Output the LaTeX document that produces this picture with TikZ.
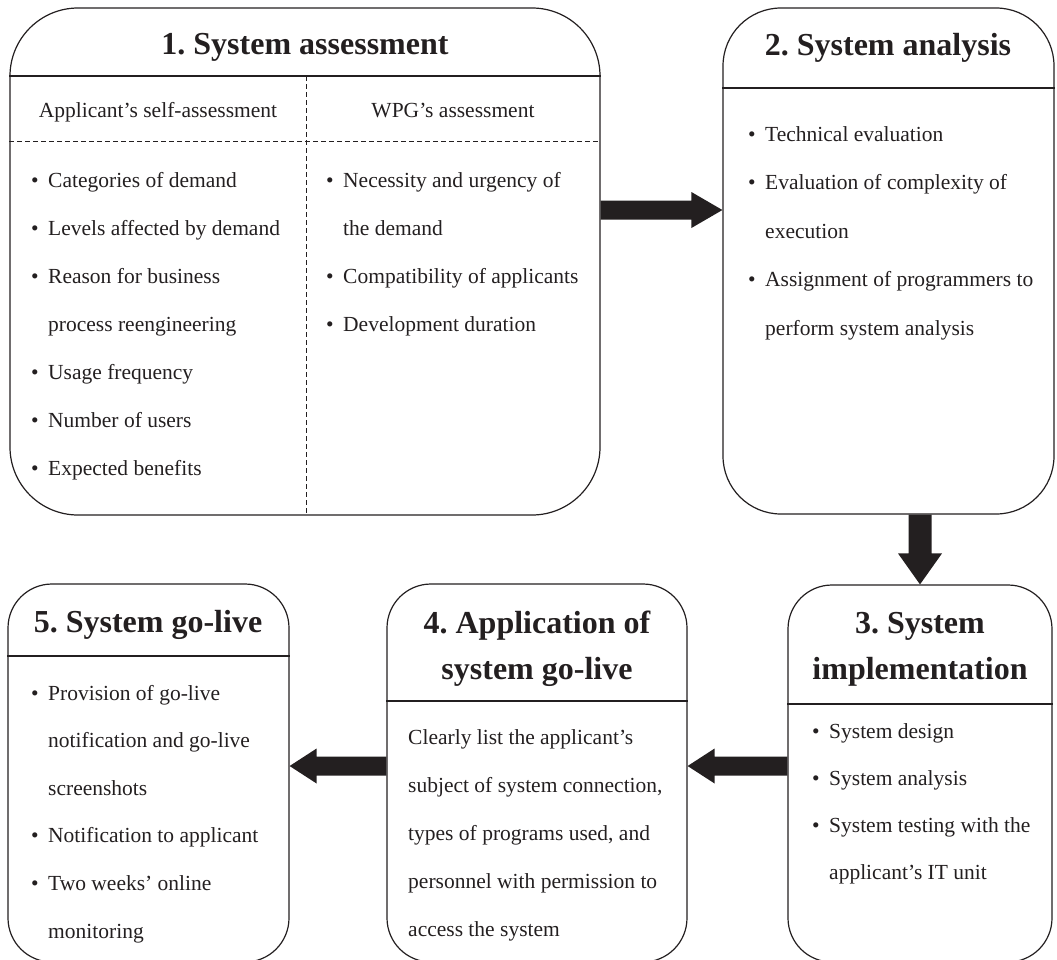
\documentclass[tikz,border=0pt]{standalone}
\usepackage{fontspec}
\setmainfont{Liberation Serif}
\usetikzlibrary{calc}
\frenchspacing

\definecolor{ink}{RGB}{35,31,32}

% bullet and hanging indent for the lists
\newcommand\bitem{\makebox[17pt][l]{\textbullet}}
\newcommand\bcont{\hspace*{17pt}}
% a block of text lines whose reference point is the first baseline
\newcommand\lines[2]{\parbox[t]{320pt}{\fontsize{21.5}{#1}\selectfont\raggedright #2}}
\newcommand\hdlines[2]{\parbox[t]{#1}{\centering\fontsize{32}{46}\selectfont\bfseries #2}}

\begin{document}
\begin{tikzpicture}[x=1pt,y=-1pt,
  every node/.style={text=ink, inner sep=0pt},
  box/.style={draw=ink, line width=1.2pt},
  head/.style={font=\fontsize{32}{46}\selectfont\bfseries, anchor=base},
  sub/.style={font=\fontsize{21.5}{26}\selectfont, anchor=base},
  lst/.style={anchor=base west},
  rule/.style={draw=ink, line width=1.5pt},
  dline/.style={draw=ink, line width=1pt, dash pattern=on 5pt off 3pt},
  flow/.style={fill=ink}]

\useasboundingbox (0,0) rectangle (1057,959);
\clip (0,0) rectangle (1057,959);

% ---------- the five stage boxes ----------
\node[box, rounded corners=68pt, minimum width=590pt, minimum height=507pt] (b1) at (305,261.5) {};
\node[box, rounded corners=58pt, minimum width=331pt, minimum height=506pt] (b2) at (888.5,261) {};
\node[box, rounded corners=44pt, minimum width=264pt, minimum height=377pt] (b3) at (920,773.5) {};
\node[box, rounded corners=44pt, minimum width=300pt, minimum height=378pt] (b4) at (537,773) {};
\node[box, rounded corners=44pt, minimum width=281pt, minimum height=378pt] (b5) at (148.5,773) {};

% ---------- header rules and column dividers ----------
\draw[rule] (b1.west |- 0,76) -- (b1.east |- 0,76);
\draw[rule] (b2.west |- 0,88) -- (b2.east |- 0,88);
\draw[rule] (b3.west |- 0,704) -- (b3.east |- 0,704);
\draw[rule] (b4.west |- 0,701) -- (b4.east |- 0,701);
\draw[rule] (b5.west |- 0,656) -- (b5.east |- 0,656);
\draw[dline] (306,76) -- (b1.south -| 306,0);
\draw[dline] (b1.west |- 0,141) -- (b1.east |- 0,141);

% ---------- headings ----------
\node[head] (h1) at (305,54) {1. System assessment};
\node[head] (h2) at (888,55) {2. System analysis};
\node[anchor=base] (h3) at (920,633) {\hdlines{260pt}{3. System\\implementation}};
\node[anchor=base] (h4) at (537,633) {\hdlines{296pt}{4. Application of\\system go-live}};
\node[head] (h5) at (148,632) {5. System go-live};

\node[sub] (s1) at (158,117) {Applicant’s self-assessment};
\node[sub] (s2) at (453,117) {WPG’s assessment};

% ---------- contents ----------
\node[lst] (l1) at (31,187) {\lines{48pt}{%
  \bitem Categories of demand\\
  \bitem Levels affected by demand\\
  \bitem Reason for business\\
  \bcont process reengineering\\
  \bitem Usage frequency\\
  \bitem Number of users\\
  \bitem Expected benefits}};

\node[lst] (l2) at (326,187) {\lines{48pt}{%
  \bitem Necessity and urgency of\\
  \bcont the demand\\
  \bitem Compatibility of applicants\\
  \bitem Development duration}};

\node[lst] (l3) at (748,141) {\lines{48.5pt}{%
  \bitem Technical evaluation\\
  \bitem Evaluation of complexity of\\
  \bcont execution\\
  \bitem Assignment of programmers to\\
  \bcont perform system analysis}};

\node[lst] (l4) at (812,738) {\lines{47pt}{%
  \bitem System design\\
  \bitem System analysis\\
  \bitem System testing with the\\
  \bcont applicant’s IT unit}};

\node[lst] (l5) at (408,744) {\lines{48pt}{%
  Clearly list the applicant’s\\
  subject of system connection,\\
  types of programs used, and\\
  personnel with permission to\\
  access the system}};

\node[lst] (l6) at (31,700) {\lines{47.6pt}{%
  \bitem Provision of go-live\\
  \bcont notification and go-live\\
  \bcont screenshots\\
  \bitem Notification to applicant\\
  \bitem Two weeks’ online\\
  \bcont monitoring}};

% ---------- block arrows between the stages ----------
% 1 -> 2
\coordinate (a1s) at (b1.east |- 0,210);
\coordinate (a1e) at (b2.west |- 0,210);
\fill[flow] ($(a1s)+(0,-9.5)$) -- ($(a1e)+(-31,-9.5)$) -- ($(a1e)+(-31,-18)$) -- (a1e)
  -- ($(a1e)+(-31,18)$) -- ($(a1e)+(-31,9.5)$) -- ($(a1s)+(0,9.5)$) -- cycle;
% 2 -> 3
\coordinate (a2s) at (b3.north |- b2.south);
\coordinate (a2e) at (b3.north);
\fill[flow] ($(a2s)+(-11.5,0)$) -- ($(a2e)+(-11.5,-31)$) -- ($(a2e)+(-22,-31)$) -- (a2e)
  -- ($(a2e)+(22,-31)$) -- ($(a2e)+(11.5,-31)$) -- ($(a2s)+(11.5,0)$) -- cycle;
% 3 -> 4
\coordinate (a3s) at (b3.west |- 0,766);
\coordinate (a3e) at (b4.east |- 0,766);
\fill[flow] ($(a3s)+(0,-9.5)$) -- ($(a3e)+(27,-9.5)$) -- ($(a3e)+(27,-17.5)$) -- (a3e)
  -- ($(a3e)+(27,17.5)$) -- ($(a3e)+(27,9.5)$) -- ($(a3s)+(0,9.5)$) -- cycle;
% 4 -> 5
\coordinate (a4s) at (b4.west |- 0,766);
\coordinate (a4e) at (b5.east |- 0,766);
\fill[flow] ($(a4s)+(0,-9.5)$) -- ($(a4e)+(27,-9.5)$) -- ($(a4e)+(27,-17.5)$) -- (a4e)
  -- ($(a4e)+(27,17.5)$) -- ($(a4e)+(27,9.5)$) -- ($(a4s)+(0,9.5)$) -- cycle;

\end{tikzpicture}
\end{document}
